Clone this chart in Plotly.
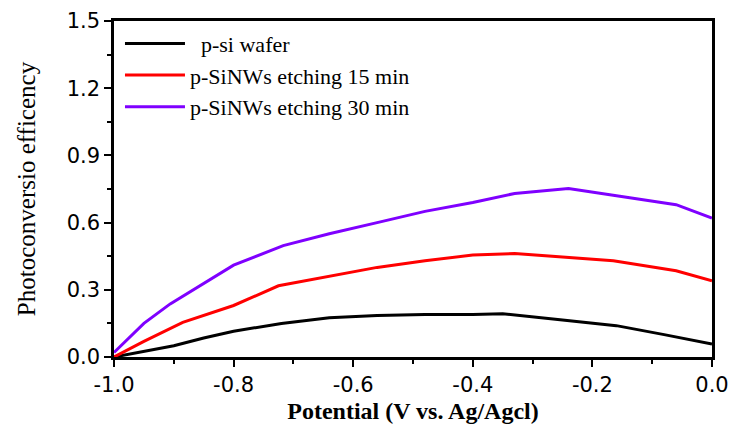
import plotly.graph_objects as go

x_black = [-1.0, -0.9, -0.85, -0.8, -0.72, -0.64, -0.56, -0.48, -0.40, -0.35, -0.25, -0.16, -0.08, 0.0]
y_black = [0.0, 0.05, 0.085, 0.115, 0.15, 0.175, 0.185, 0.19, 0.19, 0.193, 0.165, 0.14, 0.10, 0.058]

x_red = [-1.0, -0.95, -0.885, -0.8, -0.725, -0.64, -0.56, -0.48, -0.40, -0.33, -0.25, -0.165, -0.06, 0.0]
y_red = [0.0, 0.07, 0.155, 0.23, 0.318, 0.36, 0.40, 0.43, 0.455, 0.462, 0.447, 0.43, 0.385, 0.34]

x_purple = [-1.0, -0.95, -0.906, -0.868, -0.8, -0.717, -0.64, -0.56, -0.48, -0.40, -0.33, -0.24, -0.16, -0.06, 0.0]
y_purple = [0.02, 0.15, 0.237, 0.30, 0.41, 0.497, 0.55, 0.60, 0.65, 0.69, 0.73, 0.752, 0.72, 0.68, 0.62]

names = ["  p-si wafer", "p-SiNWs etching 15 min", "p-SiNWs etching 30 min"]
colors = ["#000000", "#ff0000", "#7f00ff"]

x_tickvals = [-1.0, -0.8, -0.6, -0.4, -0.2, 0.0]
x_ticktext = ["-1.0", "-0.8", "-0.6", "-0.4", "-0.2", "0.0"]
y_tickvals = [0.0, 0.3, 0.6, 0.9, 1.2, 1.5]
y_ticktext = ["0.0", "0.3", "0.6", "0.9", "1.2", "1.5"]

fig = go.Figure()
for xs, ys, nm, c in [(x_black, y_black, names[0], colors[0]),
                      (x_red, y_red, names[1], colors[1]),
                      (x_purple, y_purple, names[2], colors[2])]:
    fig.add_trace(go.Scatter(x=xs, y=ys, mode="lines", name=nm,
                             line=dict(color=c, width=3)))

axis_common = dict(showline=True, linecolor="black", linewidth=2.5, mirror=True,
                   ticks="outside", ticklen=7, tickwidth=2, tickcolor="black",
                   showgrid=False, zeroline=False, automargin=False,
                   tickfont=dict(family="DejaVu Sans", size=21, color="black"))

fig.update_xaxes(range=[-1.0, 0.0], tickvals=x_tickvals, ticktext=x_ticktext,
                 minor=dict(ticks="outside", ticklen=4, tickwidth=2, dtick=0.1, tickcolor="black"),
                 title=dict(text="<b>Potential (V vs. Ag/Agcl)</b>",
                            font=dict(family="Liberation Serif, Times New Roman", size=24, color="black"),
                            standoff=14),
                 **axis_common)
fig.update_yaxes(range=[0.0, 1.5], tickvals=y_tickvals, ticktext=y_ticktext,
                 minor=dict(ticks="outside", ticklen=4, tickwidth=2, dtick=0.15, tickcolor="black"),
                 title=dict(text="Photoconversio efficency",
                            font=dict(family="Liberation Serif, Times New Roman", size=25, color="black"),
                            standoff=24),
                 **axis_common)

fig.update_layout(
    width=733, height=424,
    margin=dict(l=114, r=21, t=21, b=67),
    plot_bgcolor="white", paper_bgcolor="white",
    legend=dict(x=0.01, y=0.995, xanchor="left", yanchor="top",
                bgcolor="rgba(0,0,0,0)",
                font=dict(family="Liberation Serif, Times New Roman", size=22, color="black"),
                itemwidth=60, tracegroupgap=0),
)

fig.write_html("out.html")
